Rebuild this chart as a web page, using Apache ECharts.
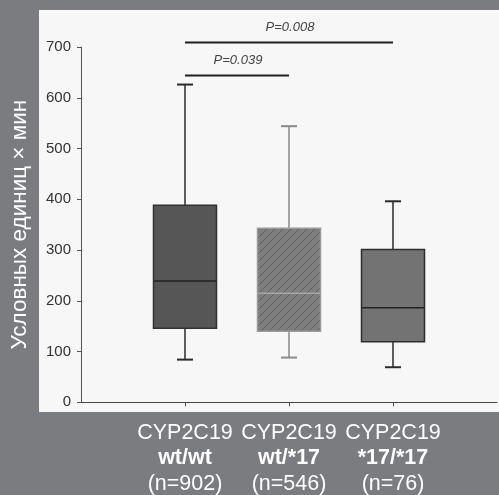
<!DOCTYPE html>
<html>
<head>
<meta charset="utf-8">
<script src="https://cdn.jsdelivr.net/npm/echarts@6/dist/echarts.min.js"></script>
<style>
  html, body { margin: 0; padding: 0; background: #7b7c80; }
  #chart { width: 499px; height: 495px; }
</style>
</head>
<body>
<div id="chart"></div>
<script>
// Genotype groups on the x axis
const genotypes = ['wt/wt', 'wt/*17', '*17/*17'];
const groupSizes = [902, 546, 76];
// Box statistics per group: [min, Q1, median, Q3, max]
const boxStats = [
  [84, 146, 239, 388, 626],
  [88, 140, 215, 343, 544],
  [69, 119, 186, 301, 396]
];
// Pairwise comparisons: [from group, to group, bracket height, p-value text]
const comparisons = [
  [0, 2, 709, 'P=0.008'],
  [0, 1, 644, 'P=0.039']
];
const yTicks = [0, 100, 200, 300, 400, 500, 600, 700];

// Diagonal hatching for the middle group
function hatchPattern() {
  const c = document.createElement('canvas');
  c.width = 8; c.height = 8;
  const g = c.getContext('2d');
  g.fillStyle = '#7e7e7e';
  g.fillRect(0, 0, 8, 8);
  g.strokeStyle = '#606060';
  g.lineWidth = 1;
  g.beginPath();
  g.moveTo(-1, 9); g.lineTo(9, -1);
  g.moveTo(-1, 1); g.lineTo(1, -1);
  g.moveTo(7, 9); g.lineTo(9, 7);
  g.stroke();
  return c;
}

const boxStyles = [
  { fill: '#565656', border: '#303030', whisker: '#2a2a2a', median: '#222' },
  { fill: { image: hatchPattern(), repeat: 'repeat' }, border: '#9a9a9a', whisker: '#8a8a8a', median: '#a5a5a5' },
  { fill: '#737373', border: '#2e2e2e', whisker: '#2a2a2a', median: '#222' }
];

// Axis categories padded with empty slots at both ends
const axisCats = [''].concat(genotypes, ['']);

const chart = echarts.init(document.getElementById('chart'), null, { renderer: 'canvas' });

const boxData = boxStats.map((s, i) => [i + 1].concat(s).concat([i]));
const cmpData = comparisons.map(c => [c[0] + 1, c[1] + 1, c[2], c[3]]);

const font = 'Liberation Sans, Arial';

chart.setOption({
  backgroundColor: '#7b7c80',
  animation: false,
  graphic: [{
    type: 'rect', z: -10, silent: true,
    shape: { x: 39, y: 10, width: 460, height: 402 },
    style: { fill: '#f7f7f7' }
  }],
  grid: { left: 79, right: 2, top: 47, bottom: 91 },
  xAxis: {
    type: 'category',
    data: axisCats,
    boundaryGap: false,
    axisLine: { lineStyle: { color: '#444', width: 1 } },
    axisTick: { length: 4, interval: (i, v) => v !== '', lineStyle: { color: '#444' } },
    axisLabel: {
      interval: (i, v) => v !== '',
      margin: 18,
      formatter: (v, i) => {
        const k = genotypes.indexOf(v);
        if (k < 0) return '';
        return '{a|CYP2C19}\n{b|' + v + '}\n{a|(n=' + groupSizes[k] + ')}';
      },
      rich: {
        a: { color: '#fff', fontSize: 21.5, lineHeight: 25.5, fontFamily: font },
        b: { color: '#fff', fontSize: 21.5, lineHeight: 25.5, fontWeight: 'bold', fontFamily: font }
      }
    },
    splitLine: { show: false }
  },
  yAxis: {
    type: 'value',
    min: yTicks[0],
    max: yTicks[yTicks.length - 1],
    interval: 100,
    name: 'Условных единиц × мин',
    nameLocation: 'middle',
    nameGap: 50,
    nameTextStyle: { color: '#fff', fontSize: 22.5, fontFamily: font },
    axisLine: { show: true, lineStyle: { color: '#555', width: 1 } },
    axisTick: { show: true, length: 4, lineStyle: { color: '#555' } },
    axisLabel: { color: '#333', fontSize: 15, margin: 10, fontFamily: font },
    splitLine: { show: false }
  },
  series: [
    {
      type: 'custom',
      clip: false,
      data: boxData,
      encode: { x: 0, y: [1, 2, 3, 4, 5] },
      renderItem: (params, api) => {
        const x = api.value(0);
        const st = boxStyles[api.value(6)];
        const pMin = api.coord([x, api.value(1)]);
        const pQ1 = api.coord([x, api.value(2)]);
        const pMed = api.coord([x, api.value(3)]);
        const pQ3 = api.coord([x, api.value(4)]);
        const pMax = api.coord([x, api.value(5)]);
        const cx = pMin[0];
        const hw = 31.5, cap = 8;
        const wl = { stroke: st.whisker, lineWidth: 1.5 };
        return {
          type: 'group',
          children: [
            { type: 'line', shape: { x1: cx, y1: pQ3[1], x2: cx, y2: pMax[1] }, style: wl },
            { type: 'line', shape: { x1: cx - cap, y1: pMax[1], x2: cx + cap, y2: pMax[1] }, style: { stroke: st.whisker, lineWidth: 2 } },
            { type: 'line', shape: { x1: cx, y1: pQ1[1], x2: cx, y2: pMin[1] }, style: wl },
            { type: 'line', shape: { x1: cx - cap, y1: pMin[1], x2: cx + cap, y2: pMin[1] }, style: { stroke: st.whisker, lineWidth: 2 } },
            { type: 'rect', shape: { x: cx - hw, y: pQ3[1], width: 2 * hw, height: pQ1[1] - pQ3[1] },
              style: { fill: st.fill, stroke: st.border, lineWidth: 1.5 } },
            { type: 'line', shape: { x1: cx - hw, y1: pMed[1], x2: cx + hw, y2: pMed[1] }, style: { stroke: st.median, lineWidth: 1.5 } }
          ]
        };
      }
    },
    {
      type: 'custom',
      clip: false,
      data: cmpData,
      encode: { x: [0, 1], y: 2 },
      renderItem: (params, api) => {
        const a = api.coord([api.value(0), api.value(2)]);
        const b = api.coord([api.value(1), api.value(2)]);
        const label = cmpData[params.dataIndex][3];
        return {
          type: 'group',
          children: [
            { type: 'line', shape: { x1: a[0], y1: a[1], x2: b[0], y2: b[1] }, style: { stroke: '#1e1e1e', lineWidth: 2 } },
            { type: 'text', x: (a[0] + b[0]) / 2 + 1, y: a[1] - 15,
              style: { text: label, fill: '#444', fontSize: 13, fontStyle: 'italic',
                       fontFamily: font, align: 'center', verticalAlign: 'middle' } }
          ]
        };
      }
    }
  ]
});
</script>
</body>
</html>
